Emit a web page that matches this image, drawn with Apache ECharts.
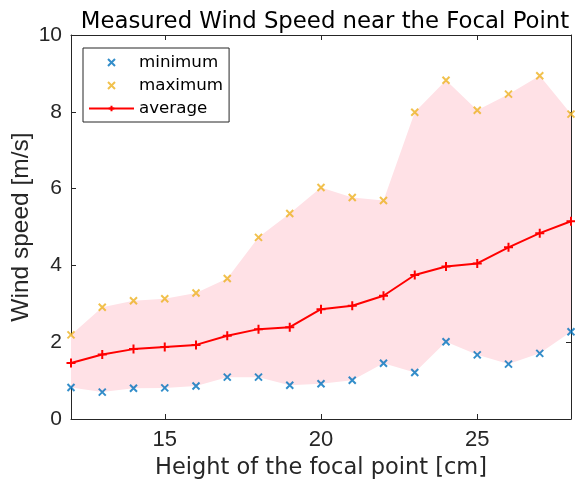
<!DOCTYPE html>
<html><head><meta charset="utf-8">
<script src="https://cdn.jsdelivr.net/npm/echarts@6/dist/echarts.min.js"></script>
<style>html,body{margin:0;padding:0;background:#fff}#c{width:575px;height:486px}</style>
</head><body><div id="c"></div>
<script>
const heights = [12,13,14,15,16,17,18,19,20,21,22,23,24,25,26,27,28];
const minimum = [0.82,0.70,0.80,0.81,0.86,1.09,1.09,0.88,0.92,1.01,1.45,1.21,2.01,1.67,1.43,1.71,2.27];
const maximum = [2.19,2.91,3.08,3.13,3.28,3.66,4.73,5.35,6.03,5.77,5.69,7.99,8.82,8.04,8.46,8.94,7.94];
const average = [1.46,1.68,1.82,1.875,1.93,2.17,2.34,2.39,2.86,2.95,3.21,3.75,3.97,4.05,4.47,4.84,5.15];
const xTicks = [15,20,25];

const pair = (a) => heights.map((h,i)=>[h,a[i]]);
const wide = '"DejaVu Sans", sans-serif';
const arial = '"Liberation Sans", Arial, sans-serif';
const axisCol = '#262626';
const xPath = 'path://M0,0L10,10M10,0L0,10';
const plusPath = 'path://M5,0L5,10M0,5L10,5';

const chart = echarts.init(document.getElementById('c'), null, {renderer:'canvas'});
chart.setOption({
  animation:false,
  title:{text:'Measured Wind Speed near the Focal Point', left:320, top:6, textAlign:'center',
    textStyle:{fontFamily:wide, fontSize:22.8, fontWeight:'normal', color:'#000'}},
  grid:{left:71, right:4, top:35, bottom:67, outerBoundsMode:'none', containLabel:false},
  legend:{orient:'vertical', left:83, top:48, padding:[6,6,5,5], itemGap:6,
    borderColor:'#262626', borderWidth:1, backgroundColor:'#fff', itemWidth:45, itemHeight:7,
    textStyle:{fontFamily:wide, fontSize:16.7, lineHeight:17, color:'#000'},
    data:['minimum','maximum','average']},
  xAxis:[{type:'value', min:12, max:28, position:'bottom',
    axisLine:{show:true, onZero:false, lineStyle:{color:axisCol}},
    axisTick:{show:true, inside:true, length:5, customValues:xTicks, lineStyle:{color:axisCol}},
    axisLabel:{customValues:xTicks, fontFamily:arial, fontSize:22, color:'#262626', margin:10},
    splitLine:{show:false}, nameMoveOverlap:false,
    name:'Height of the focal point [cm]', nameLocation:'middle', nameGap:38,
    nameTextStyle:{fontFamily:wide, fontSize:22.5, color:'#262626'}},
   {type:'value', min:12, max:28, position:'top',
    axisLine:{show:true, onZero:false, lineStyle:{color:axisCol}},
    axisTick:{show:true, inside:true, length:5, customValues:xTicks, lineStyle:{color:axisCol}},
    axisLabel:{show:false}, splitLine:{show:false}}],
  yAxis:[{type:'value', min:0, max:10, interval:2, position:'left',
    axisLine:{show:true, onZero:false, lineStyle:{color:axisCol}},
    axisTick:{show:true, inside:true, length:5, lineStyle:{color:axisCol}},
    axisLabel:{fontFamily:arial, fontSize:21, color:'#262626', margin:9},
    splitLine:{show:false}, nameMoveOverlap:false,
    name:'Wind speed [m/s]', nameLocation:'middle', nameGap:37, nameRotate:90,
    nameTextStyle:{fontFamily:arial, fontSize:24.5, color:'#262626'}},
   {type:'value', min:0, max:10, interval:2, position:'right',
    axisLine:{show:true, onZero:false, lineStyle:{color:axisCol}},
    axisTick:{show:true, inside:true, length:5, lineStyle:{color:axisCol}},
    axisLabel:{show:false}, splitLine:{show:false}}],
  series:[
    {name:'band', type:'custom', data:[0], silent:true, z:1,
     renderItem:function(params, api){
       const pts = [];
       heights.forEach((h,i)=>pts.push(api.coord([h, maximum[i]])));
       for (let i=heights.length-1;i>=0;i--) pts.push(api.coord([heights[i], minimum[i]]));
       return {type:'polygon', shape:{points:pts}, style:{fill:'#FFE1E6', stroke:'none'}};
     }},
    {name:'average', type:'line', data:pair(average), symbol:plusPath, symbolSize:[9,9],
     showAllSymbol:true,
     lineStyle:{color:'#FF0000', width:2}, itemStyle:{color:'none', borderColor:'#FF0000', borderWidth:2},
     clip:false, z:3},
    {name:'minimum', type:'scatter', data:pair(minimum), symbol:xPath, symbolSize:7,
     itemStyle:{color:'none', borderColor:'#0072BD', borderWidth:2}, clip:false, z:4},
    {name:'maximum', type:'scatter', data:pair(maximum), symbol:xPath, symbolSize:7,
     itemStyle:{color:'none', borderColor:'#EDB120', borderWidth:2}, clip:false, z:4}
  ]
});
</script></body></html>
